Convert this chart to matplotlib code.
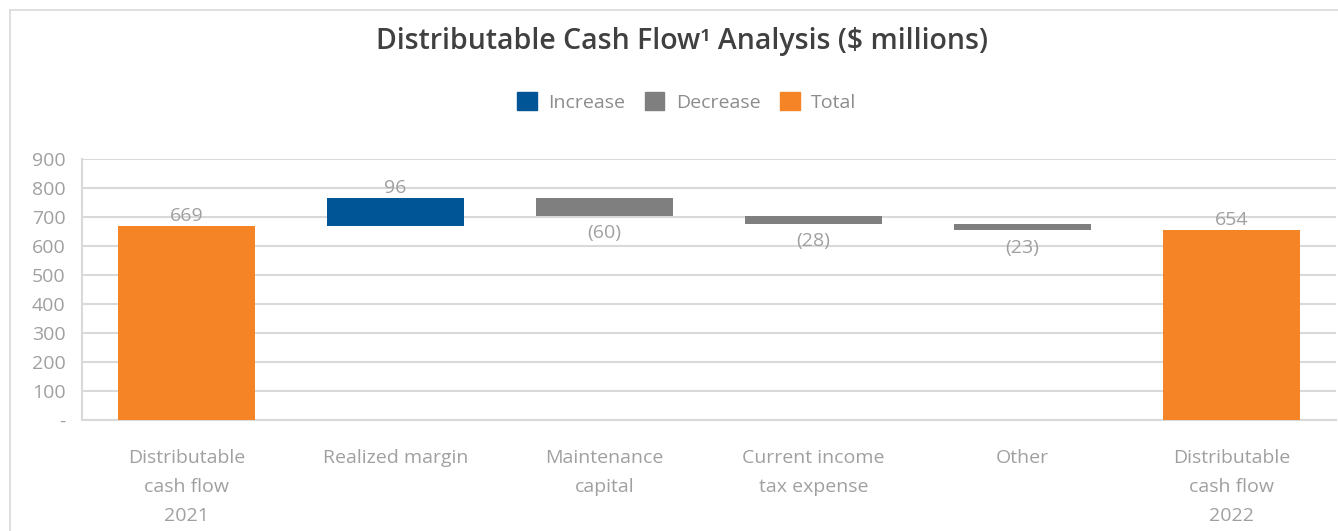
import matplotlib
matplotlib.use("Agg")
import matplotlib.pyplot as plt
from matplotlib.patches import Patch
from matplotlib.lines import Line2D

categories = ["Distributable\ncash flow\n2021", "Realized margin", "Maintenance\ncapital",
              "Current income\ntax expense", "Other", "Distributable\ncash flow\n2022"]
changes = [669, 96, -60, -28, -23, 654]
kinds = ["total", "inc", "dec", "dec", "dec", "total"]
labels = ["669", "96", "(60)", "(28)", "(23)", "654"]
yticks = [0, 100, 200, 300, 400, 500, 600, 700, 800, 900]
yticklabels = ["-", "100", "200", "300", "400", "500", "600", "700", "800", "900"]

colors = {"inc": "#005596", "dec": "#7f7f7f", "total": "#f58426"}
txt_gray = "#a0a0a0"

plt.rcParams['font.family'] = ['Open Sans', 'DejaVu Sans']

fig = plt.figure(figsize=(13.38, 5.31), dpi=100)
ax = fig.add_axes([82/1338, 1-420/531, (1336-82)/1338, 261/531])

running = 0
for i, (c, k, lab) in enumerate(zip(changes, kinds, labels)):
    if k == "total":
        running = c
        ax.bar(i, c, bottom=0, width=0.66, color=colors[k], zorder=3)
        ax.text(i, c + 4, lab, ha="center", va="bottom", fontsize=14, color=txt_gray, zorder=4)
    elif k == "inc":
        ax.bar(i, c, bottom=running, width=0.66, color=colors[k], zorder=3)
        running += c
        ax.text(i, running + 4, lab, ha="center", va="bottom", fontsize=14, color=txt_gray, zorder=4)
    else:
        ax.bar(i, -c, bottom=running + c, width=0.66, color=colors[k], zorder=3)
        running += c
        ax.text(i, running - 30, lab, ha="center", va="top", fontsize=14, color=txt_gray, zorder=4)

ax.set_xlim(-0.5, 5.5)
ax.set_ylim(0, 900)
ax.set_yticks(yticks)
ax.set_yticklabels(yticklabels)
ax.set_xticks(range(len(categories)))
ax.set_xticklabels(categories, linespacing=1.78)
ax.tick_params(axis="both", length=0, labelsize=14, labelcolor=txt_gray)
ax.tick_params(axis="x", pad=21)
ax.tick_params(axis="y", pad=12)
ax.yaxis.grid(True, color="#d9d9d9", linewidth=1.5, zorder=0)
for s in ["top", "right"]:
    ax.spines[s].set_visible(False)
for s in ["left", "bottom"]:
    ax.spines[s].set_color("#d9d9d9")
    ax.spines[s].set_linewidth(1.5)

fig.text(682/1338, 1-42/531, "Distributable Cash Flow\u00b9 Analysis ($ millions)", ha="center", va="center",
         fontsize=20.5, fontweight="semibold", color="#404040")

handles = [Patch(color=colors["inc"], label="Increase"),
           Patch(color=colors["dec"], label="Decrease"),
           Patch(color=colors["total"], label="Total")]
fig.legend(handles=handles, loc="center", bbox_to_anchor=(687/1338, 1-102/531), ncol=3, frameon=False,
           fontsize=14, labelcolor="#8c8c8c", handlelength=1.0, handleheight=1.0,
           handletextpad=0.6, columnspacing=1.0)

# outer frame lines
fig.add_artist(Line2D([10/1338, 10/1338], [0, 1-10/531], transform=fig.transFigure, color="#d9d9d9", lw=1.2))
fig.add_artist(Line2D([10/1338, 1], [1-10/531, 1-10/531], transform=fig.transFigure, color="#d9d9d9", lw=1.2))

fig.savefig("out.png", dpi=100)
